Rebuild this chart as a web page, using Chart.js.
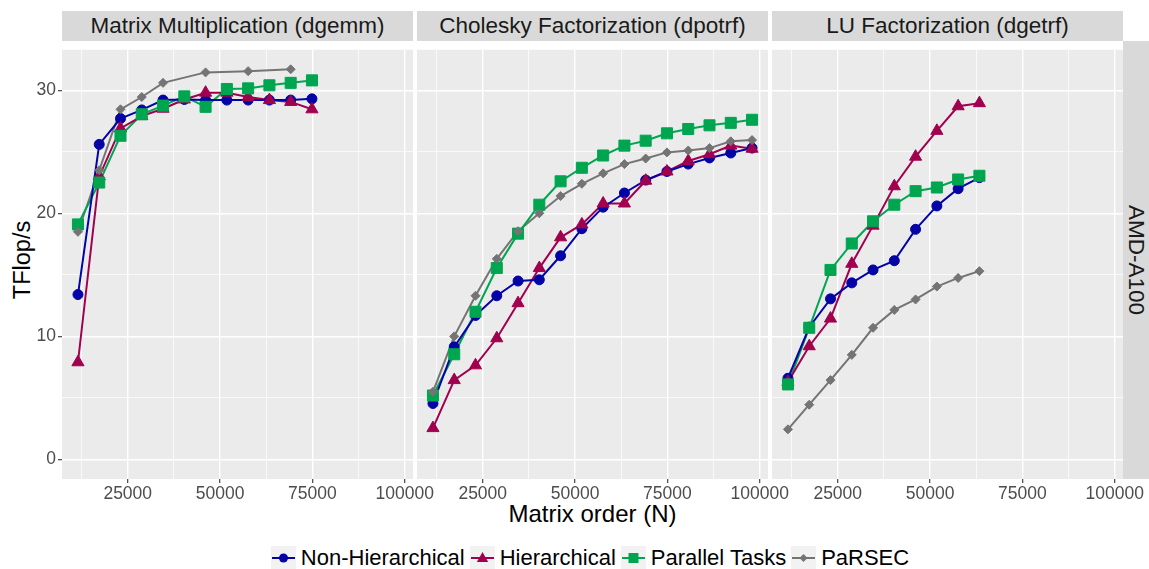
<!DOCTYPE html>
<html>
<head>
<meta charset="utf-8">
<script src="https://cdn.jsdelivr.net/npm/chart.js@4.4.1/dist/chart.umd.min.js"></script>
<style>
  body { margin: 0; width: 1149px; height: 569px; overflow: hidden; background: #fff;
         position: relative; font-family: "Liberation Sans", Arial, sans-serif; }
  canvas { position: absolute; }
  .strip { position: absolute; top: 11px; height: 30px; width: 351px; background: #d9d9d9;
           color: #1a1a1a; font-size: 22.5px; line-height: 30px; text-align: center; white-space: nowrap; }
  .rstrip { position: absolute; left: 1123px; top: 41px; width: 26px; height: 438px; background: #d9d9d9; }
  .rstrip span { position: absolute; left: 13px; top: 219px; transform: translate(-50%, -50%) rotate(90deg);
                 font-size: 22.5px; color: #1a1a1a; white-space: nowrap; }
  .xtitle { position: absolute; left: 0; width: 1185px; top: 500px; line-height: 28px; text-align: center;
            font-size: 24px; color: #000; }
  .ytitle { position: absolute; left: 22px; top: 260px; transform: translate(-50%, -50%) rotate(-90deg);
            font-size: 23.5px; color: #000; white-space: nowrap; }
  .legend { position: absolute; left: 0; width: 1185px; top: 546px; height: 24px; display: flex;
            justify-content: center; align-items: center; font-size: 22px; color: #000; }
  .legend svg { background: #f2f2f2; margin-right: 5px; }
  .legend span { margin-right: 5px; }
</style>
</head>
<body>
<div class="strip" style="left:62px">Matrix Multiplication (dgemm)</div>
<div class="strip" style="left:417px">Cholesky Factorization (dpotrf)</div>
<div class="strip" style="left:772px">LU Factorization (dgetrf)</div>
<div class="rstrip"><span>AMD-A100</span></div>
<div class="ytitle">TFlop/s</div>
<div class="xtitle">Matrix order (N)</div>
<div class="legend" id="legend"></div>

<canvas id="dgemm" width="443" height="478" style="left:0;top:41px"></canvas>
<canvas id="dpotrf" width="411" height="478" style="left:387px;top:41px"></canvas>
<canvas id="dgetrf" width="411" height="478" style="left:742px;top:41px"></canvas>

<script>
// matrix sizes used by the runs (N)
const matrixOrder = [11520, 17280, 23040, 28800, 34560, 40320, 46080, 51840,
                     57600, 63360, 69120, 74880, 80640, 86400, 92160, 97920];

// dgemm
const dgemmNonHier = [13.4, 25.6, 27.7, 28.4, 29.2, 29.25, 29.2, 29.2, 29.2, 29.2, 29.2, 29.3];
const dgemmHier    = [7.9, 23.0, 26.9, 27.9, 28.5, 29.25, 29.8, 29.8, 29.45, 29.2, 29.05, 28.45];
const dgemmPar     = [19.1, 22.5, 26.3, 28.05, 28.75, 29.5, 28.65, 30.1, 30.15, 30.4, 30.6, 30.8];
const dgemmParsecN = [11520, 17280, 23040, 28800, 34560, 46080, 57600, 69120];
const dgemmParsec  = [18.5, 23.5, 28.45, 29.45, 30.6, 31.45, 31.55, 31.7];

// dpotrf
const potrfNonHier = [4.55, 9.15, 11.7, 13.3, 14.5, 14.6, 16.55, 18.75, 20.5, 21.65, 22.7, 23.4, 24.0, 24.5, 24.9, 25.3];
const potrfHier    = [2.55, 6.45, 7.65, 9.85, 12.7, 15.55, 18.05, 19.1, 20.8, 20.8, 22.65, 23.4, 24.25, 24.8, 25.5, 25.25];
const potrfPar     = [5.2, 8.55, 12.0, 15.55, 18.35, 20.7, 22.6, 23.7, 24.7, 25.5, 25.9, 26.5, 26.85, 27.15, 27.35, 27.6];
const potrfParsec  = [5.5, 10.0, 13.3, 16.3, 18.55, 20.0, 21.4, 22.4, 23.25, 24.0, 24.45, 24.95, 25.1, 25.3, 25.85, 25.95];

// dgetrf
const getrfNonHier = [6.6, 10.75, 13.05, 14.35, 15.4, 16.15, 18.7, 20.6, 22.0, 22.9];
const getrfHier    = [6.3, 9.2, 11.45, 15.9, 19.0, 22.2, 24.6, 26.7, 28.7, 28.95];
const getrfPar     = [6.1, 10.7, 15.4, 17.55, 19.35, 20.7, 21.8, 22.1, 22.75, 23.05];
const getrfParsec  = [2.45, 4.45, 6.45, 8.5, 10.7, 12.15, 13.0, 14.05, 14.75, 15.3];

// grid positions; only the major ones get a label and a tick mark
const xGrid = [12500, 25000, 37500, 50000, 62500, 75000, 87500, 100000];
const xTicksMajor = [25000, 50000, 75000, 100000];
const yGrid = [0, 5, 10, 15, 20, 25, 30];
const yTicksMajor = [0, 10, 20, 30];

const variants = [
  { name: 'Non-Hierarchical', color: '#0303a6', style: 'circle',   radius: 5 },
  { name: 'Hierarchical',     color: '#a1004f', style: 'triangle', radius: 7 },
  { name: 'Parallel Tasks',   color: '#00a550', style: 'rect',     radius: 7.8 },
  { name: 'PaRSEC',           color: '#747474', style: 'rectRot',  radius: 4.5 }
];

const FONT = 'Liberation Sans';

const zip = (xs, ys) => ys.map((y, i) => ({ x: xs[i], y }));
const isMajor = (list) => (c) => !!(c.tick && list.includes(c.tick.value));

const panelBackground = {
  id: 'panelBackground',
  beforeDraw(chart) {
    const { ctx, chartArea: a } = chart;
    ctx.save();
    ctx.fillStyle = '#ebebeb';
    ctx.fillRect(a.left, a.top, a.right - a.left, a.bottom - a.top);
    ctx.restore();
  }
};

function makePanel(id, seriesList, padLeft, showY) {
  const datasets = [];
  seriesList.forEach((pts, i) => {
    const v = variants[i];
    // lines first so every marker sits above every line
    datasets.push({
      data: pts, borderColor: v.color, borderWidth: 2, pointRadius: 0,
      order: 10 + i
    });
    datasets.push({
      data: pts, showLine: false, pointStyle: v.style, pointRadius: v.radius,
      backgroundColor: v.color, borderColor: v.color, borderWidth: 1,
      order: 4 - i
    });
  });

  const xMajor = isMajor(xTicksMajor);
  const yMajor = isMajor(yTicksMajor);

  new Chart(document.getElementById(id), {
    type: 'line',
    data: { datasets },
    plugins: [panelBackground],
    options: {
      responsive: false,
      animation: false,
      events: [],
      layout: { padding: { left: padLeft, right: 30, top: 0, bottom: 0 } },
      plugins: { legend: { display: false }, tooltip: { enabled: false } },
      scales: {
        x: {
          type: 'linear', min: 7200, max: 102240,
          afterBuildTicks(s) { s.ticks = xGrid.map(value => ({ value })); },
          afterFit(s) { s.height = 40; s.paddingLeft = 0; s.paddingRight = 0; },
          border: { display: false },
          grid: {
            color: '#ffffff',
            lineWidth: c => xMajor(c) ? 1.4 : 0.7,
            drawTicks: true, tickLength: 4, tickWidth: 1.1,
            tickColor: c => xMajor(c) ? '#333333' : 'rgba(0,0,0,0)'
          },
          ticks: {
            autoSkip: false, maxRotation: 0, minRotation: 0,
            padding: 1, color: '#4d4d4d', font: { family: FONT, size: 17.5 },
            callback: v => xTicksMajor.includes(v) ? String(v) : ''
          }
        },
        y: {
          min: -1.585, max: 33.285,
          afterBuildTicks(s) { s.ticks = yGrid.map(value => ({ value })); },
          afterFit(s) { s.width = showY ? 62 : 0; s.paddingTop = 0; s.paddingBottom = 0; },
          border: { display: false },
          grid: {
            color: '#ffffff',
            lineWidth: c => yMajor(c) ? 1.4 : 0.7,
            drawTicks: showY, tickLength: 4, tickWidth: 1.1,
            tickColor: c => yMajor(c) ? '#333333' : 'rgba(0,0,0,0)'
          },
          ticks: {
            display: showY, autoSkip: false, padding: 2,
            color: '#4d4d4d', font: { family: FONT, size: 17.5 },
            callback: v => yTicksMajor.includes(v) ? String(v) : ''
          }
        }
      }
    }
  });
}

makePanel('dgemm', [
  zip(matrixOrder, dgemmNonHier),
  zip(matrixOrder, dgemmHier),
  zip(matrixOrder, dgemmPar),
  zip(dgemmParsecN, dgemmParsec)
], 0, true);

makePanel('dpotrf', [
  zip(matrixOrder, potrfNonHier),
  zip(matrixOrder, potrfHier),
  zip(matrixOrder, potrfPar),
  zip(matrixOrder, potrfParsec)
], 30, false);

makePanel('dgetrf', [
  zip(matrixOrder, getrfNonHier),
  zip(matrixOrder, getrfHier),
  zip(matrixOrder, getrfPar),
  zip(matrixOrder, getrfParsec)
], 30, false);

// legend keys: line with the series marker on a grey tile
function keyMarker(v) {
  const c = v.color;
  switch (v.style) {
    case 'circle':   return `<circle cx="12.5" cy="12" r="4.5" fill="${c}"/>`;
    case 'triangle': return `<polygon points="12.5,6 18.2,16 6.8,16" fill="${c}"/>`;
    case 'rect':     return `<rect x="7.5" y="7" width="10" height="10" fill="${c}"/>`;
    default:         return `<polygon points="12.5,8 16.5,12 12.5,16 8.5,12" fill="${c}"/>`;
  }
}
document.getElementById('legend').innerHTML = variants.map(v =>
  `<svg width="25" height="24"><line x1="1" y1="12" x2="24" y2="12" stroke="${v.color}" stroke-width="2"/>${keyMarker(v)}</svg><span>${v.name}</span>`
).join('');
</script>
</body>
</html>
